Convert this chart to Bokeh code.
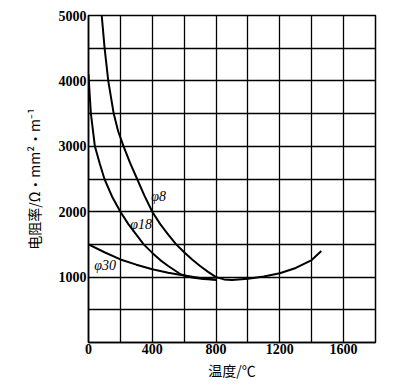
from bokeh.plotting import figure
from bokeh.models import Range1d, FixedTicker, Label
from bokeh.embed import file_html
from bokeh.resources import INLINE

# Data
t_phi8 = [83, 101, 124, 158, 186, 220, 260, 305, 350, 400, 450, 500, 550, 600, 650, 700, 750, 800,
          850, 900, 1000, 1100, 1200, 1300, 1400, 1460]
r_phi8 = [5000, 4500, 4000, 3500, 3230, 3000, 2750, 2500, 2250, 2000, 1810, 1650, 1500, 1380, 1270,
          1170, 1080, 1000, 965, 955, 975, 1010, 1060, 1140, 1260, 1400]

t_phi18 = [0, 2, 15, 40, 70, 100, 150, 200, 250, 300, 346, 400, 450, 500, 580, 650, 720, 800]
r_phi18 = [4100, 4000, 3500, 3000, 2740, 2500, 2220, 2000, 1810, 1650, 1500, 1370, 1260, 1170,
           1040, 995, 972, 960]

t_phi30 = [0, 100, 200, 300, 400, 500, 600, 700, 800]
r_phi30 = [1500, 1380, 1270, 1190, 1120, 1065, 1025, 985, 960]

x_tick_values = [0, 400, 800, 1200, 1600]
y_tick_values = [1000, 2000, 3000, 4000, 5000]

SERIF = "Liberation Serif"
CJK = "Noto Sans CJK SC"

p = figure(width=397, height=387, output_backend="svg", toolbar_location=None,
           x_range=Range1d(0, 1800), y_range=Range1d(0, 5000),
           min_border_left=88, min_border_top=15, min_border_right=22, min_border_bottom=45)

p.background_fill_color = "white"
p.border_fill_color = "white"
p.outline_line_color = "black"
p.outline_line_width = 1.5

for g, ticks in ((p.xgrid, list(range(0, 1801, 200))), (p.ygrid, list(range(0, 5001, 500)))):
    g.ticker = FixedTicker(ticks=ticks)
    g.grid_line_color = "black"
    g.grid_line_width = 1.3
    g.grid_line_alpha = 1.0

p.xaxis.ticker = FixedTicker(ticks=x_tick_values)
p.yaxis.ticker = FixedTicker(ticks=y_tick_values)

for ax in (p.xaxis, p.yaxis):
    ax.axis_line_color = "black"
    ax.axis_line_width = 1.5
    ax.major_tick_in = 0
    ax.major_tick_out = 0
    ax.minor_tick_line_color = None
    ax.major_label_text_font = SERIF
    ax.major_label_text_font_size = "14px"
    ax.major_label_text_font_style = "bold"
    ax.major_label_text_color = "black"
    ax.axis_label_text_font = CJK
    ax.axis_label_text_font_size = "14px"
    ax.axis_label_text_font_style = "normal"
    ax.axis_label_text_color = "black"

p.xaxis.major_label_standoff = 1
p.yaxis.major_label_standoff = 2
p.xaxis.axis_label = "温度/℃"
p.yaxis.axis_label = "电阻率/Ω•mm²•m⁻¹"
p.xaxis.axis_label_standoff = 3
p.yaxis.axis_label_standoff = 12

p.line(t_phi8, r_phi8, line_color="black", line_width=2)
p.line(t_phi18, r_phi18, line_color="black", line_width=2)
p.line(t_phi30, r_phi30, line_color="black", line_width=2)

for txt, x, y in (("φ8", 440, 2240), ("φ18", 330, 1800), ("φ30", 105, 1180)):
    p.add_layout(Label(x=x, y=y, text=txt, text_font=SERIF, text_font_size="14px",
                       text_font_style="italic", text_align="center", text_baseline="middle",
                       text_color="black"))

open("out.html", "w").write(file_html(p, INLINE))
